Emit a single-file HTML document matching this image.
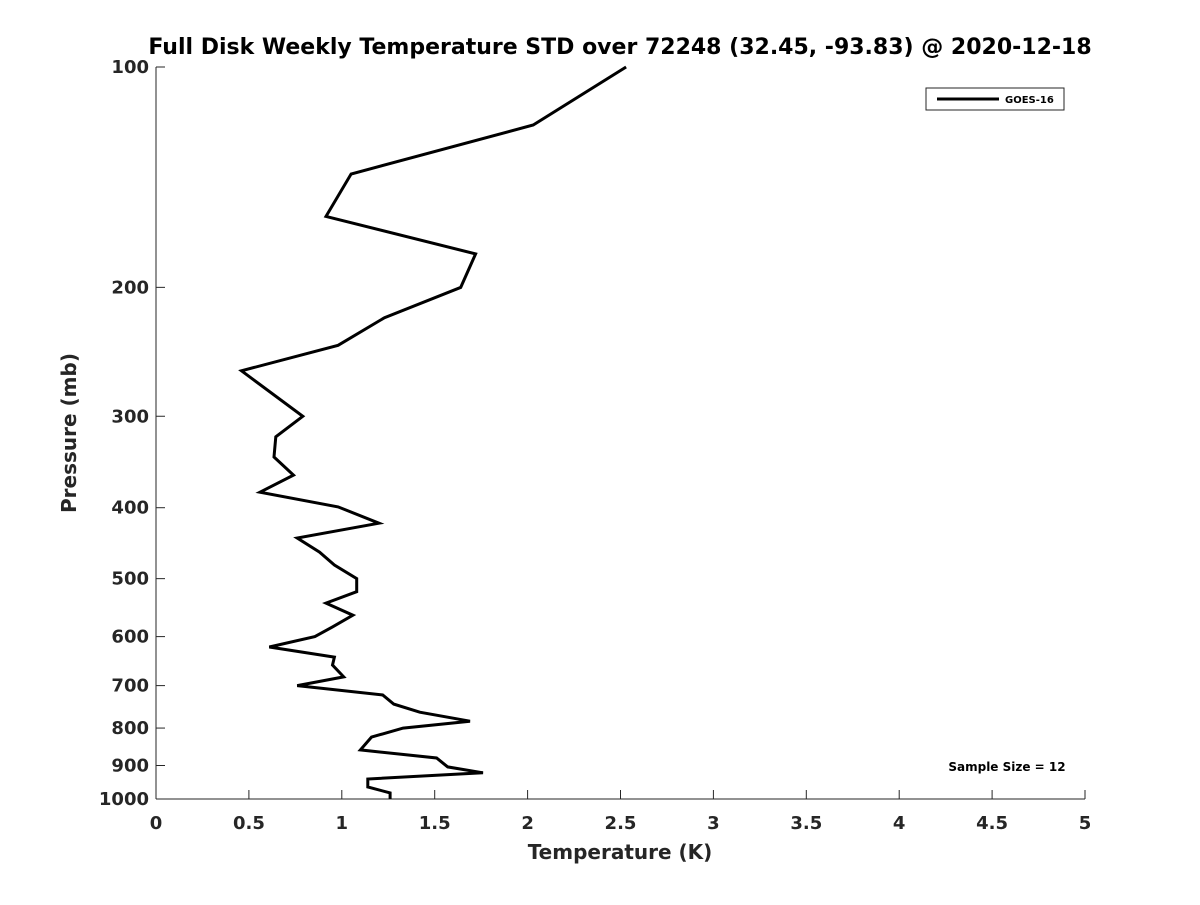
<!DOCTYPE html>
<html><head><meta charset="utf-8"><style>body{margin:0;background:#fff}svg text{font-family:"DejaVu Sans","Liberation Sans",sans-serif;font-weight:bold;fill:#262626}</style></head>
<body>
<svg width="1200" height="900">
<text x="620" y="54" text-anchor="middle" font-size="22" style="fill:#000">Full Disk Weekly Temperature STD over 72248 (32.45, -93.83) @ 2020-12-18</text>
<g id="axes"></g>
<text x="620" y="859" text-anchor="middle" font-size="20">Temperature (K)</text>
<text transform="translate(76,433) rotate(-90)" text-anchor="middle" font-size="20">Pressure (mb)</text>
<g>
<rect x="926" y="88" width="138" height="22" fill="#fff" stroke="#262626" stroke-width="1"/>
<line x1="937" y1="99" x2="999" y2="99" stroke="#000" stroke-width="3"/>
<text x="1005" y="103" font-size="10" style="fill:#000">GOES-16</text>
</g>
<text x="1007" y="771" text-anchor="middle" font-size="12" style="fill:#000">Sample Size = 12</text>
</svg>
<script>
const pressures=[100,120,140,160,180,200,220,240,260,300,320,341,361,381,399,420,440,460,479,500,521,540,561,582,600,620,640,656,681,700,721,742,761,783,800,823,857,879,904,921,939,963,981,1000];
const temps=[2.53,2.03,1.05,0.915,1.72,1.64,1.23,0.98,0.46,0.79,0.645,0.635,0.74,0.56,0.98,1.20,0.76,0.88,0.96,1.08,1.08,0.915,1.06,0.95,0.855,0.61,0.96,0.95,1.01,0.76,1.22,1.28,1.42,1.69,1.33,1.16,1.10,1.51,1.57,1.76,1.14,1.14,1.26,1.26];
const xTicks=[0,0.5,1,1.5,2,2.5,3,3.5,4,4.5,5];
const yTicks=[100,200,300,400,500,600,700,800,900,1000];
const X0=156,X1=1085,Y0=67,Y1=799;
const xs=v=>X0+(v-0)/(5-0)*(X1-X0);
const ys=p=>Y0+(Math.log10(p)-2)/1*(Y1-Y0);
const NS="http://www.w3.org/2000/svg";
const svg=document.querySelector('svg');
const ax=document.getElementById('axes');
function mk(t,a,p){const e=document.createElementNS(NS,t);for(const k in a)e.setAttribute(k,a[k]);(p||ax).appendChild(e);return e;}
const xa=mk('line',{x1:X0,y1:Y1,x2:X1,y2:Y1,stroke:'#262626','stroke-width':1});


const ya=mk('line',{x1:X0,y1:Y0,x2:X0,y2:Y1,stroke:'#262626','stroke-width':1});


xTicks.forEach(v=>{const x=xs(v);
const t=mk('line',{x1:x,y1:Y1,x2:x,y2:Y1-9,stroke:'#262626'});


const l=mk('text',{x:x,y:Y1+30,'text-anchor':'middle','font-size':18});l.textContent=v;

});
yTicks.forEach(p=>{const y=ys(p);
const t=mk('line',{x1:X0,y1:y,x2:X0+9,y2:y,stroke:'#262626'});


const l=mk('text',{x:X0-7,y:y+6,'text-anchor':'end','font-size':18});l.textContent=p;

});
const pts=temps.map((t,i)=>xs(t).toFixed(1)+','+ys(pressures[i]).toFixed(1)).join(' ');
const pl=mk('polyline',{points:pts,fill:'none',stroke:'#000','stroke-width':3,'stroke-linejoin':'miter'});


</script>
</body></html>
